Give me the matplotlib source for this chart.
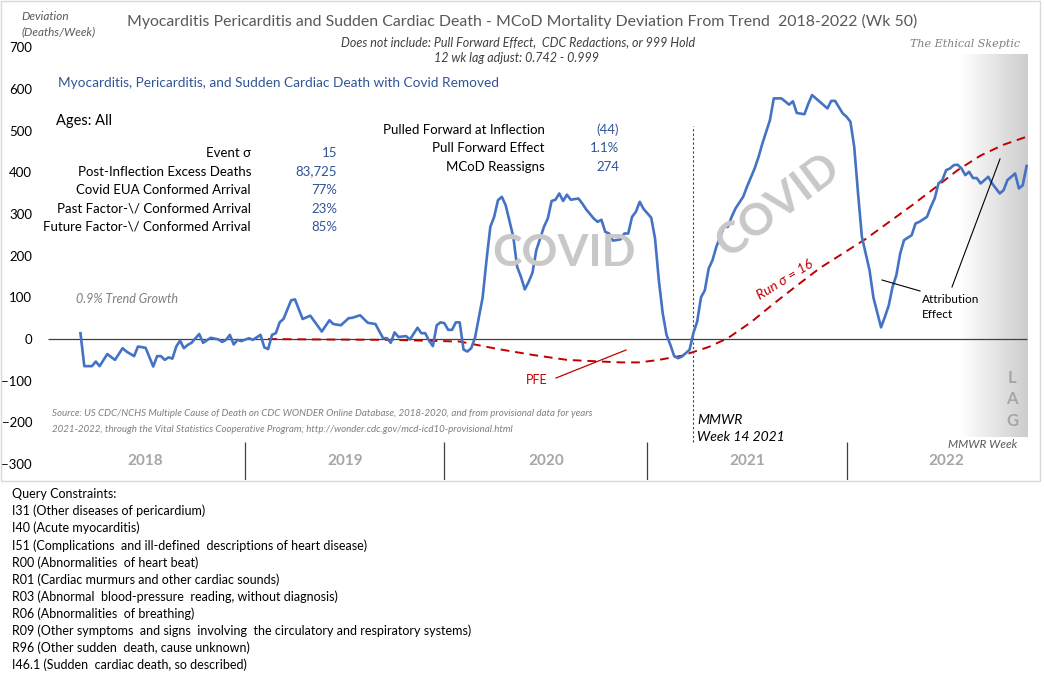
import matplotlib
matplotlib.use("Agg")
import matplotlib.pyplot as plt
import numpy as np
from matplotlib.colors import LinearSegmentedColormap
from matplotlib.patches import Rectangle

# weekly deviation from trend, week index counted from 2018 week 1
weeks = [9, 10, 12, 13, 14, 16, 18, 20, 21, 23, 24, 26, 28, 29, 30, 31, 32, 33, 34, 35,
         36, 37, 38, 40, 41, 43, 45, 46, 47, 48, 49, 50, 51, 53, 54, 56, 57, 58, 59, 60,
         61, 62, 64, 65, 67, 69, 72, 74, 75, 77, 79, 80, 82, 84, 86, 88, 89, 90, 91, 92,
         94, 95, 97, 98, 99, 100, 101, 102, 103, 104, 105, 106, 107, 108, 109, 110, 111, 112, 113, 114,
         115, 116, 117, 118, 119, 120, 122, 123, 124, 125, 126, 127, 128, 129, 130, 131, 132, 133, 134, 135,
         136, 137, 139, 140, 141, 143, 144, 145, 146, 147, 148, 150, 151, 152, 153, 154, 155, 156, 158, 159,
         160, 161, 162, 163, 164, 165, 166, 168, 169, 170, 171, 172, 173, 174, 175, 176, 177, 178, 179, 180,
         182, 183, 185, 186, 187, 189, 190, 191, 192, 194, 195, 196, 198, 199, 200, 202, 204, 205, 206, 208,
         209, 210, 211, 212, 213, 215, 216, 218, 219, 220, 221, 222, 223, 224, 226, 227, 228, 230, 231, 232,
         233, 234, 235, 236, 237, 238, 239, 240, 241, 242, 243, 244, 245, 246, 247, 249, 250, 251, 253, 254,
         255, 256]
deviation = [14, -65, -65, -54, -65, -36, -50, -22, -30, -41, -18, -21, -66, -41, -41, -50, -44, -47, -18, -4,
             -22, -14, -9, 12, -9, 3, -1, -7, -2, 10, -13, -2, -5, 2, -2, 10, -20, -24, 10, 14,
             40, 48, 93, 95, 48, 56, 18, 45, 36, 33, 50, 51, 57, 39, 36, 2, 2, -9, 16, 5,
             7, -1, 27, 14, 14, -4, -17, 33, 40, 38, 22, 22, 40, 40, -25, -30, -22, 3, 51, 100,
             189, 269, 293, 333, 341, 321, 245, 173, 149, 119, 137, 159, 213, 241, 269, 289, 331, 334, 349, 331,
             346, 334, 337, 325, 311, 289, 281, 286, 257, 253, 236, 239, 253, 253, 293, 305, 329, 312, 291, 241,
             140, 62, 10, -14, -41, -46, -42, -26, 14, 42, 100, 117, 169, 189, 221, 245, 269, 269, 293, 313,
             341, 365, 409, 436, 468, 525, 577, 577, 577, 562, 570, 542, 539, 564, 585, 569, 553, 571, 571, 541,
             533, 521, 461, 349, 245, 165, 100, 28, 53, 80, 125, 153, 205, 237, 249, 277, 281, 293, 317, 337,
             373, 381, 405, 409, 417, 418, 409, 393, 401, 386, 386, 373, 381, 389, 373, 349, 357, 381, 397, 361,
             369, 415]

# trend (pull forward / run) curve
trend_weeks = [58, 70, 90, 108, 118, 127, 136, 145, 150, 155, 160, 166, 173, 178, 184, 190,
               196, 202, 208, 214, 220, 226, 232, 238, 244, 250, 256]
trend = [0, -1, -2, -6, -24, -38, -50, -54, -56, -56, -50, -40, -19, 2, 40, 85,
         128, 170, 205, 240, 280, 320, 362, 405, 440, 466, 485]

year_bounds = [0, 52, 104, 157, 209, 261]
year_labels = ["2018", "2019", "2020", "2021", "2022"]
inflection_week = 169

stats_left = ["Event σ", "Post-Inflection Excess Deaths", "Covid EUA Conformed Arrival",
              "Past Factor-\\/ Conformed Arrival", "Future Factor-\\/ Conformed Arrival"]
stats_left_vals = ["15", "83,725", "77%", "23%", "85%"]
stats_mid = ["Pulled Forward at Inflection", "Pull Forward Effect", "MCoD Reassigns"]
stats_mid_vals = ["(44)", "1.1%", "274"]

constraints = [
    "Query Constraints:",
    "I31 (Other diseases of pericardium)",
    "I40 (Acute myocarditis)",
    "I51 (Complications  and ill-defined  descriptions of heart disease)",
    "R00 (Abnormalities  of heart beat)",
    "R01 (Cardiac murmurs and other cardiac sounds)",
    "R03 (Abnormal  blood-pressure  reading, without diagnosis)",
    "R06 (Abnormalities  of breathing)",
    "R09 (Other symptoms  and signs  involving  the circulatory and respiratory systems)",
    "R96 (Other sudden  death, cause unknown)",
    "I46.1 (Sudden  cardiac death, so described)",
]

W, H = 1044, 681
BLUE = "#4472C4"
DBLUE = "#2F5597"
RED = "#C00000"
plt.rcParams["font.family"] = ["Lato", "DejaVu Sans"]

fig = plt.figure(figsize=(W / 100, H / 100), dpi=100)


def T(x, y, s, **kw):
    kw.setdefault("va", "center")
    kw.setdefault("ha", "left")
    fig.text(x / W, 1 - y / H, s, **kw)


# chart border
fig.patches.append(Rectangle((1 / W, 1 - 481 / H), 1039 / W, 480 / H, transform=fig.transFigure,
                             fill=False, edgecolor="#D9D9D9", lw=1))

ax = fig.add_axes([46 / W, 1 - 480 / H, 994 / W, 440 / H])
for s in ax.spines.values():
    s.set_visible(False)
ax.patch.set_alpha(0)

# LAG band
lag = LinearSegmentedColormap.from_list("lag", ["#FFFFFF", "#CDCDCD"])
ax.imshow(np.linspace(0, 1, 100).reshape(1, -1), cmap=lag, aspect="auto",
          extent=[238.5, 256, -235, 683], zorder=0)

ax.hlines(0, 0.5, 256, color="#404040", lw=0.9, zorder=1)
ax.plot(weeks, deviation, color=BLUE, lw=1.9, zorder=3)
ax.plot(trend_weeks, trend, color=RED, lw=1.4, ls=(0, (4.5, 3)), zorder=2)

ax.set_xlim(0, 259.5)
ax.set_ylim(-338, 717)
ax.set_xticks([])
ax.set_yticks(range(-300, 701, 100))
ax.tick_params(axis="y", length=0, pad=10, labelsize=9.5)

# year band
ax.vlines(year_bounds[1:-1], -338, -247, color="#404040", lw=0.9)
for i, lab in enumerate(year_labels):
    ax.text((year_bounds[i] + year_bounds[i + 1]) / 2, -293, lab, ha="center", va="center",
            fontsize=11, fontweight="bold", color="#A6A6A6")

# inflection marker
ax.vlines(inflection_week, -247, 510, color="#404040", lw=0.8, ls=(0, (2, 2)))
T(697, 420, "MMWR", style="italic", fontsize=10)
T(697, 437, "Week 14 2021", style="italic", fontsize=10)

# watermarks
T(564, 253, "COVID", ha="center", fontsize=32, fontweight="bold", color="#C8C8C8", zorder=0)
T(778, 205, "COVID", ha="center", fontsize=32, fontweight="bold", color="#C8C8C8",
  rotation=37, rotation_mode="anchor", zorder=0)

# titles
T(522, 21, "Myocarditis Pericarditis and Sudden Cardiac Death - MCoD Mortality Deviation From Trend  2018-2022 (Wk 50)",
  ha="center", fontsize=11.4, color="#595959")
T(518, 42, "Does not include: Pull Forward Effect,  CDC Redactions, or 999 Hold", ha="center",
  style="italic", fontsize=9, color="#404040")
T(517, 58, "12 wk lag adjust: 0.742 - 0.999", ha="center", style="italic", fontsize=9, color="#404040")
T(965, 44, "The Ethical Skeptic", ha="center", family="DejaVu Serif", style="italic", fontsize=8,
  color="#7F7F7F")
T(21, 16, "Deviation", style="italic", fontsize=8.5, color="#595959")
T(21, 32, "(Deaths/Week)", style="italic", fontsize=8.5, color="#595959")

T(58, 83, "Myocarditis, Pericarditis, and Sudden Cardiac Death with Covid Removed", fontsize=9.8, color=DBLUE)
T(56, 121, "Ages: All", fontsize=10.5)

for i, (lab, val) in enumerate(zip(stats_left, stats_left_vals)):
    y = 153 + i * 18.5
    T(251, y, lab, ha="right", fontsize=9.5)
    T(337, y, val, ha="right", fontsize=9.5, color=DBLUE)
for i, (lab, val) in enumerate(zip(stats_mid, stats_mid_vals)):
    y = 130 + i * 18.3
    T(545, y, lab, ha="right", fontsize=9.5)
    T(619, y, val, ha="right", fontsize=9.5, color=DBLUE)

T(76, 299, "0.9% Trend Growth", style="italic", fontsize=9, color="#7F7F7F")
T(52, 414, "Source: US CDC/NCHS Multiple Cause of Death on CDC WONDER Online Database, 2018-2020, and from provisional data for years",
  style="italic", fontsize=7, color="#7F7F7F")
T(52, 429, "2021-2022, through the Vital Statistics Cooperative Program; http://wonder.cdc.gov/mcd-icd10-provisional.html",
  style="italic", fontsize=7, color="#7F7F7F")

# annotations
T(537, 380, "PFE", ha="center", fontsize=9, color=RED)
fig.add_artist(plt.Line2D([556 / W, 626 / W], [1 - 378 / H, 1 - 350 / H], color=RED, lw=0.9))
T(785, 280, "Run σ = 16", ha="center", style="italic", fontsize=10, color=RED, rotation=32)
T(922, 299, "Attribution", fontsize=8.5)
T(922, 314, "Effect", fontsize=8.5)
fig.add_artist(plt.Line2D([882 / W, 920 / W], [1 - 280 / H, 1 - 291 / H], color="black", lw=0.8))
fig.add_artist(plt.Line2D([952 / W, 1000 / W], [1 - 287 / H, 1 - 159 / H], color="black", lw=0.8))

for i, ch in enumerate("LAG"):
    T(1012, 378 + i * 21.5, ch, ha="center", fontsize=12, fontweight="bold", color="#A6A6A6")
T(1017, 444, "MMWR Week", ha="right", style="italic", fontsize=8.5, color="#595959")

for i, line in enumerate(constraints):
    T(12, 494 + i * 17.1, line, fontsize=9)

fig.savefig("out.png", dpi=100)
